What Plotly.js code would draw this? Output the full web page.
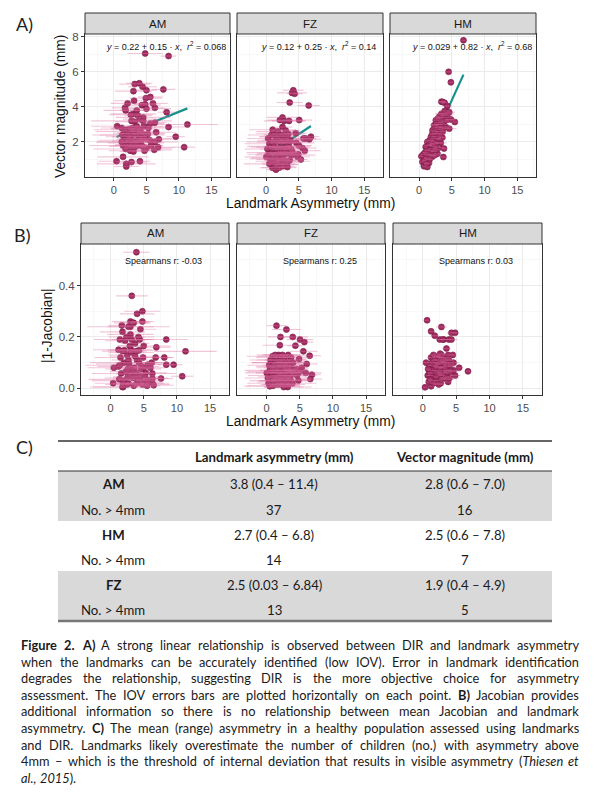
<!DOCTYPE html>
<html><head><meta charset="utf-8">
<script src="https://cdn.plot.ly/plotly-3.0.1.min.js"></script>
<style>html,body{margin:0;padding:0;background:#fff}#chart{width:597px;height:798px}</style>
</head><body><div id="chart"></div>
<script>
// ---------------- DATA ----------------
const facetNames = ['AM', 'FZ', 'HM'];

// AM: landmark asymmetry (x), IOV error, vector magnitude (panel A), |1-Jacobian| (panel B)
const amLandmark = [4.8,8.4,3.2,3.9,3.0,4.4,5.0,7.6,3.1,4.9, 5.6,2.1,1.7,1.8,4.3,4.8,5.0,6.3,6.0,8.1, 3.0,3.7,4.5,4.0,2.7,3.2,4.5,6.3,0.5,11.3, 8.4,9.5,10.8,6.9,6.8,6.3,1.4,0.4,1.9,1.9, 2.7,4.0,1.2,1.6,2.0,2.5,3.0,3.5,4.0,4.6, 1.3,1.8,2.3,2.8,3.3,3.8,4.3,5.2,1.5,2.0, 2.6,3.1,3.6,4.1,4.8,5.5,1.4,2.2,2.7,3.2, 3.7,4.4,5.0,5.7,6.2,2.5,3.0,1.8,4.7,1.2, 3.9,2.4,5.3,3.4,4.2,2.9,6.5,5.6,3.5,2.6];
const amIOV = [2.7,1.2,2.4,2.0,2.8,2.2,1.6,1.8,3.1,2.5, 1.9,2.6,2.0,3.4,2.9,1.7,3.8,1.5,2.3,1.4, 3.5,2.1,4.2,2.6,6.2,3.0,2.4,1.8,4.0,4.7, 3.3,1.4,1.7,2.2,2.5,3.6,3.9,2.8,4.5,1.9, 2.3,1.6,3.2,4.4,5.1,2.9,3.5,2.2,1.7,3.0, 4.6,3.1,2.4,5.0,2.8,1.9,3.6,2.5,3.9,4.8, 2.2,3.4,1.8,2.9,4.1,2.0,5.2,3.0,2.5,1.6, 3.7,2.3,4.0,1.9,2.7,3.3,2.1,4.9,2.6,3.8, 1.5,2.7,3.2,4.3,2.4,1.8,3.0,2.1,2.6,3.4];
const amVector = [7.05,6.9,5.3,5.35,4.9,5.15,4.95,5.0,4.35,4.5, 4.57,4.2,3.95,3.8,4.1,4.15,3.9,3.95,4.2,3.7, 3.6,3.5,3.4,3.3,3.2,3.15,3.2,3.1,2.9,3.0, 2.85,2.3,1.7,2.15,1.7,2.0,1.15,0.9,0.75,0.6, 0.85,0.9,2.8,2.6,2.7,2.75,2.8,2.9,2.7,2.9, 2.4,2.3,2.5,2.4,2.5,2.3,2.5,2.45,2.1,2.0, 2.15,2.05,2.1,2.0,2.2,2.1,1.8,1.75,1.85,1.7, 1.8,1.75,1.65,1.8,1.55,1.5,1.45,1.6,1.5,2.0, 2.6,2.3,2.8,1.95,2.2,2.65,2.55,3.05,3.8,3.55];
const amJacobian = [0.30,0.092,0.36,0.53,0.26,0.19,0.08,0.038,0.15,0.12, 0.092,0.148,0.245,0.22,0.148,0.26,0.02,0.038,0.08,0.12, 0.24,0.175,0.04,0.29,0.24,0.19,0.23,0.02,0.08,0.144, 0.19,0.092,0.047,0.16,0.12,0.058,0.19,0.02,0.005,0.02, 0.02,0.02,0.085,0.058,0.10,0.13,0.21,0.255,0.11,0.075, 0.035,0.145,0.065,0.095,0.255,0.06,0.10,0.045,0.12,0.03, 0.045,0.14,0.08,0.035,0.015,0.01,0.09,0.185,0.11,0.07, 0.125,0.05,0.165,0.03,0.10,0.015,0.055,0.005,0.085,0.15, 0.145,0.2,0.06,0.04,0.2,0.165,0.012,0.025,0.01,0.075];

const fzLandmark = [4.15,3.95,4.35,3.6,6.5,2.5,2.1,2.75,3.5,5.05, 2.5,3.0,6.84,6.6,6.05,5.7,5.55,5.9,4.9,4.8, 5.3,3.15,3.25,2.75,0.95,1.5,2.0,0.3,0.8,1.3, 1.8,2.3,2.8,3.4,0.5,1.0,1.5,2.0,2.5,3.0, 3.6,3.7,0.2,0.7,1.2,1.7,2.2,2.7,3.2,3.8, 3.5,0.4,0.9,1.4,1.9,2.4,2.9,3.4,3.9,0.6, 1.1,1.6,2.1,2.6,3.6,3.3,1.3,2.2,1.8,0.03, 2.9,3.3,4.6,1.0,4.5,2.6,4.0,5.0,0.5,1.6];
const fzIOV = [1.6,2.3,1.2,2.0,1.7,2.4,1.9,3.1,2.6,2.0, 1.5,2.2,1.3,1.8,1.6,1.4,2.1,2.4,1.2,1.9, 1.0,1.7,1.4,2.2,1.9,1.5,2.6,3.2,3.6,2.9, 3.3,2.7,3.9,2.5,3.8,4.0,2.8,3.4,3.1,2.4, 2.9,3.3,3.5,3.0,4.1,2.6,3.7,2.2,3.6,2.5, 3.0,3.3,3.9,2.8,3.5,2.7,3.2,2.9,3.6,3.1, 2.6,3.8,2.4,3.0,2.2,3.4,2.0,2.7,3.4,3.3, 2.1,2.5,2.8,3.5,1.8,1.6,2.4,2.0,3.9,2.6];
const fzVector = [4.95,4.8,4.75,4.25,4.08,3.4,3.25,3.2,3.2,3.25, 2.85,2.65,2.3,2.15,2.2,2.2,1.65,1.5,1.3,1.15, 1.0,0.72,0.57,0.82,0.53,0.42,0.53,2.2,2.4,2.5, 2.6,2.4,2.3,2.45,1.9,2.0,2.1,2.0,2.1,1.95, 2.0,2.1,1.6,1.7,1.75,1.6,1.7,1.65,1.75,1.6, 1.7,1.3,1.4,1.35,1.25,1.4,1.3,1.35,1.25,1.05, 1.0,1.1,0.95,1.05,0.95,0.9,0.8,0.7,0.9,1.15, 1.55,2.15,1.95,2.7,2.5,0.62,1.45,1.8,0.75,2.3];
const fzJacobian = [0.07,0.2,0.166,0.09,0.127,0.06,0.2,0.11,0.05,0.19, 0.04,0.229,0.053,0.036,0.095,0.18,0.144,0.06,0.114,0.03, 0.08,0.02,0.13,0.01,0.03,0.244,0.168,0.02,0.05,0.12, 0.13,0.08,0.03,0.1,0.07,0.01,0.045,0.125,0.09,0.06, 0.035,0.12,0.04,0.1,0.065,0.015,0.11,0.075,0.005,0.055, 0.085,0.09,0.125,0.025,0.06,0.13,0.045,0.07,0.02,0.11, 0.08,0.1,0.035,0.005,0.105,0.04,0.13,0.015,0.085,0.06, 0.095,0.015,0.05,0.03,0.075,0.12,0.1,0.065,0.008,0.07];

const hmLandmark = [6.77,4.5,4.85,3.4,3.9,3.6,4.3,3.9,3.15,3.7, 4.3,2.55,4.85,5.45,2.3,4.05,2.05,3.05,4.6,1.8, 2.8,3.55,1.25,2.3,3.3,1.0,2.05,3.05,3.8,0.65, 1.8,2.8,3.7,0.35,1.25,0.5,1.5,0.75,1.25,2.6, 3.0,3.5,2.8,3.3,3.8,2.4,2.7,3.2,3.6,2.0, 2.5,3.0,1.6,2.0,2.6,1.4,1.8,2.4,1.2,1.6, 2.2,2.6,0.9,1.4,2.0,1.0,1.6,0.8,2.4,4.0, 4.6,3.4,2.9,4.2,1.1];
const hmIOV = [0.3,0.5,0.4,0.6,0.4,0.5,0.7,0.8,0.6,1.2, 0.9,0.5,0.8,0.6,0.7,1.0,0.4,0.6,1.1,0.5, 0.8,0.6,0.4,0.7,0.9,0.3,0.6,0.8,0.5,0.4, 0.7,0.5,0.6,0.3,0.5,0.4,0.6,0.3,0.5,0.9, 0.7,1.0,0.6,1.3,0.8,0.5,0.7,0.9,1.1,0.6, 0.8,0.5,0.7,0.4,0.9,0.6,0.5,0.8,0.4,0.7, 0.5,0.6,0.4,0.7,0.5,0.3,0.6,0.4,0.8,1.4, 0.9,1.0,0.7,1.2,0.4];
const hmVector = [7.8,6.0,5.4,4.3,4.23,4.28,4.05,3.77,3.47,3.4, 3.5,3.24,3.28,3.14,2.95,2.86,2.67,2.7,2.76,2.29, 2.32,2.25,2.0,1.9,1.94,1.71,1.62,1.68,1.62,1.3, 1.24,1.33,1.14,1.18,1.05,0.86,0.8,0.61,0.57,3.0, 3.1,3.0,2.85,2.8,3.15,2.6,2.5,2.45,2.6,2.45, 2.2,2.15,2.1,2.05,1.95,1.8,1.85,1.75,1.55,1.5, 1.45,1.55,1.4,1.3,1.15,1.1,1.0,0.95,1.25,3.6, 3.7,3.6,3.35,3.25,0.75];
const hmJacobian = [0.066,0.13,0.216,0.1,0.19,0.06,0.216,0.11,0.19,0.085, 0.19,0.19,0.05,0.08,0.12,0.09,0.07,0.04,0.07,0.205, 0.239,0.155,0.222,0.03,0.12,0.09,0.11,0.06,0.025,0.265, 0.06,0.13,0.045,0.004,0.008,0.1,0.03,0.05,0.12,0.1, 0.08,0.11,0.05,0.095,0.13,0.065,0.02,0.115,0.035,0.125, 0.08,0.19,0.09,0.045,0.135,0.07,0.11,0.015,0.05,0.13, 0.095,0.055,0.025,0.1,0.085,0.06,0.02,0.075,0.125,0.04, 0.1,0.07,0.105,0.065,0.035];

// linear fits (drawn line) and labels
const fitIntercept = [2.22, 1.2, 0.29];
const fitSlope = [0.15, 0.25, 0.82];
const fitInterceptLabel = ['0.22', '0.12', '0.029'];
const fitSlopeLabel = ['0.15', '0.25', '0.82'];
const fitR2Label = ['0.068', '0.14', '0.68'];
const spearmanLabel = ['-0.03', '0.25', '0.03'];

// axis ticks
const xTicks = [0, 5, 10, 15];
const yTicksA = [2, 4, 6, 8];
const yTicksB = [0, 0.2, 0.4];

// table (panel C)
const tableHeader = ['', 'Landmark asymmetry (mm)', 'Vector magnitude (mm)'];
const tableRowLabels = ['AM', 'No. > 4mm', 'HM', 'No. > 4mm', 'FZ', 'No. > 4mm'];
const tableRowBold = [true, false, true, false, true, false];
const tableRowShaded = [true, true, false, false, true, true];
const tableLandmark = ['3.8 (0.4 – 11.4)', '37', '2.7 (0.4 – 6.8)', '14', '2.5 (0.03 – 6.84)', '13'];
const tableVector = ['2.8 (0.6 – 7.0)', '16', '2.5 (0.6 – 7.8)', '7', '1.9 (0.4 – 4.9)', '5'];

// caption runs: [text, style]
const captionLines = [
  [['Figure 2. A)', 'b'], [' A strong linear relationship is observed between DIR and landmark asymmetry', '']],
  [['when the landmarks can be accurately identified (low IOV). Error in landmark identification', '']],
  [['degrades the relationship, suggesting DIR is the more objective choice for asymmetry', '']],
  [['assessment. The IOV errors bars are plotted horizontally on each point. ', ''], ['B)', 'b'], [' Jacobian provides', '']],
  [['additional information so there is no relationship between mean Jacobian and landmark', '']],
  [['asymmetry. ', ''], ['C)', 'b'], [' The mean (range) asymmetry in a healthy population assessed using landmarks', '']],
  [['and DIR. Landmarks likely overestimate the number of children (no.) with asymmetry above', '']],
  [['4mm – which is the threshold of internal deviation that results in visible asymmetry (', ''], ['Thiesen et', 'i']],
  [['al., 2015', 'i'], [').', '']]
];

// ---------------- LAYOUT HELPERS ----------------
const W = 597, H = 798;
const X = p => p / W;
const Y = p => 1 - p / H;
const SANS = 'Liberation Sans, Arial, sans-serif';
const CAL = 'Lato, sans-serif';

const facetData = [
  {x: amLandmark, e: amIOV, a: amVector, b: amJacobian},
  {x: fzLandmark, e: fzIOV, a: fzVector, b: fzJacobian},
  {x: hmLandmark, e: hmIOV, a: hmVector, b: hmJacobian}
];

const geom = [
  {top: 34, bottom: 177, stripTop: 13, cols: [[85, 230], [237, 383], [390, 536]],
   yrange: [0.0, 8.16], yticks: yTicksA, ydt: 1, ykey: 'a'},
  {top: 244, bottom: 395, stripTop: 223, cols: [[81, 229], [237, 385], [393, 542]],
   yrange: [-0.026, 0.562], yticks: yTicksB, ydt: 0.1, ykey: 'b'}
];
const xRange = [-4.45, 17.85];

const layout = {
  width: W, height: H, margin: {l: 0, r: 0, t: 0, b: 0},
  paper_bgcolor: '#fff', plot_bgcolor: '#fff', showlegend: false,
  annotations: [], shapes: []
};
const traces = [];

const markerColor = '#a12b5f';
const errColor = 'rgba(222, 110, 160, 0.40)';

geom.forEach((g, p) => {
  g.cols.forEach((c, f) => {
    const idx = p * 3 + f + 1;
    const sfx = idx === 1 ? '' : String(idx);
    layout['xaxis' + sfx] = {
      domain: [X(c[0]), X(c[1])], anchor: 'y' + sfx, range: xRange,
      tickvals: xTicks, ticks: 'outside', ticklen: 3, tickcolor: '#333', tickwidth: 1,
      tickfont: {family: SANS, size: 11, color: '#4d4d4d'},
      showgrid: true, gridcolor: '#ebebeb', gridwidth: 1,
      minor: {dtick: 2.5, tick0: 0, showgrid: true, gridcolor: '#f4f4f4', gridwidth: 0.6, ticks: ''},
      showline: true, mirror: true, linecolor: '#333', linewidth: 1, zeroline: false, fixedrange: true
    };
    layout['yaxis' + sfx] = {
      domain: [Y(g.bottom), Y(g.top)], anchor: 'x' + sfx, range: g.yrange,
      tickvals: g.yticks, tickformat: p === 1 ? '.1f' : '',
      ticks: f === 0 ? 'outside' : '', ticklen: 3, tickcolor: '#333', tickwidth: 1,
      showticklabels: f === 0,
      tickfont: {family: SANS, size: 11.5, color: '#4d4d4d'},
      showgrid: true, gridcolor: '#ebebeb', gridwidth: 1,
      minor: {dtick: g.ydt, tick0: 0, showgrid: true, gridcolor: '#f4f4f4', gridwidth: 0.6, ticks: ''},
      showline: true, mirror: true, linecolor: '#333', linewidth: 1, zeroline: false, fixedrange: true
    };
    // strip
    layout.shapes.push({type: 'rect', xref: 'paper', yref: 'paper', x0: X(c[0]), x1: X(c[1]),
      y0: Y(g.top), y1: Y(g.stripTop), fillcolor: '#d9d9d9', line: {color: '#333', width: 1}});
    layout.annotations.push({xref: 'paper', yref: 'paper', x: X((c[0] + c[1]) / 2), y: Y((g.top + g.stripTop) / 2),
      text: facetNames[f], showarrow: false, xanchor: 'center', yanchor: 'middle',
      font: {family: SANS, size: 11.5, color: '#1a1a1a'}});

    const d = facetData[f];
    if (p === 0) {
      const xmin = Math.min(...d.x), xmax = Math.max(...d.x);
      traces.push({type: 'scatter', mode: 'lines', xaxis: 'x' + sfx, yaxis: 'y' + sfx,
        x: [xmin, xmax], y: [fitIntercept[f] + fitSlope[f] * xmin, fitIntercept[f] + fitSlope[f] * xmax],
        line: {color: '#16918c', width: 2.2}, hoverinfo: 'skip'});
      layout.annotations.push({xref: 'x' + sfx, yref: 'y' + sfx, x: 8, y: 7.5,
        text: '<i>y</i> = ' + fitInterceptLabel[f] + ' + ' + fitSlopeLabel[f] + ' · <i>x</i>,&nbsp; <i>r</i><sup>2</sup> = ' + fitR2Label[f],
        showarrow: false, xanchor: 'center', yanchor: 'middle', font: {family: SANS, size: 9, color: '#111'}});
    } else {
      layout.annotations.push({xref: 'x' + sfx, yref: 'y' + sfx, x: 8, y: 0.495,
        text: 'Spearmans r: ' + spearmanLabel[f],
        showarrow: false, xanchor: 'center', yanchor: 'middle', font: {family: SANS, size: 9, color: '#111'}});
    }
    traces.push({type: 'scatter', mode: 'markers', xaxis: 'x' + sfx, yaxis: 'y' + sfx,
      x: d.x, y: d[g.ykey],
      marker: {color: markerColor, size: 6, line: {color: '#761d45', width: 0.6}}, hoverinfo: 'x+y'});
    traces.push({type: 'scatter', mode: 'markers', xaxis: 'x' + sfx, yaxis: 'y' + sfx,
      x: d.x, y: d[g.ykey], marker: {size: 1, opacity: 0},
      error_x: {type: 'data', array: d.e, symmetric: true, color: errColor, thickness: 1.1, width: 0},
      hoverinfo: 'skip'});
  });
});

// axis titles
const tA = {xref: 'paper', yref: 'paper', showarrow: false, font: {family: SANS, size: 13.8, color: '#111'}};
layout.annotations.push(Object.assign({}, tA, {x: X(310), y: Y(203), text: 'Landmark Asymmetry (mm)', xanchor: 'center', yanchor: 'middle'}));
layout.annotations.push(Object.assign({}, tA, {x: X(310), y: Y(421), text: 'Landmark Asymmetry (mm)', xanchor: 'center', yanchor: 'middle'}));
layout.annotations.push(Object.assign({}, tA, {x: X(61), y: Y(106), text: 'Vector magnitude (mm)', textangle: -90, xanchor: 'center', yanchor: 'middle'}));
layout.annotations.push(Object.assign({}, tA, {x: X(47), y: Y(326), text: '|1-Jacobian|', textangle: -90, xanchor: 'center', yanchor: 'middle'}));

// panel labels
[['A)', 24, 24], ['B)', 22, 235], ['C)', 24, 447]].forEach(l => {
  layout.annotations.push({xref: 'paper', yref: 'paper', x: X(l[1]), y: Y(l[2]), text: l[0], showarrow: false,
    xanchor: 'center', yanchor: 'middle', font: {family: CAL, size: 18, color: '#222'}});
});

// table (panel C) drawn with shapes + text
(function () {
  const tLeft = 58, tRight = 552, tTop = 441, headH = 30, rowH = 25;
  const colCenters = [113, 274, 465];
  const tf = {family: CAL, size: 13.2, color: '#1a1a1a'};
  const txt = (x, y, t) => layout.annotations.push({xref: 'paper', yref: 'paper', x: X(x), y: Y(y), text: t,
    showarrow: false, xanchor: 'center', yanchor: 'middle', font: tf});
  tableHeader.forEach((h, i) => { if (h) txt(colCenters[i], tTop + headH / 2 + 1, '<b>' + h + '</b>'); });
  tableRowLabels.forEach((r, i) => {
    const y0 = tTop + headH + i * rowH;
    if (tableRowShaded[i]) {
      layout.shapes.push({type: 'rect', xref: 'paper', yref: 'paper', layer: 'below', x0: X(tLeft), x1: X(tRight),
        y0: Y(y0 + rowH), y1: Y(y0), fillcolor: '#d9d9d9', line: {width: 0}});
    }
    const yc = y0 + rowH / 2 + 1;
    txt(colCenters[0], yc, tableRowBold[i] ? '<b>' + r + '</b>' : r);
    txt(colCenters[1], yc, tableLandmark[i]);
    txt(colCenters[2], yc, tableVector[i]);
  });
  const tBottom = tTop + headH + tableRowLabels.length * rowH;
  layout.shapes.push({type: 'line', xref: 'paper', yref: 'paper', x0: X(tLeft), x1: X(tRight), y0: Y(tTop), y1: Y(tTop), line: {color: '#333', width: 1.3}});
  layout.shapes.push({type: 'line', xref: 'paper', yref: 'paper', x0: X(tLeft), x1: X(tRight), y0: Y(tTop + headH), y1: Y(tTop + headH), line: {color: '#333', width: 1}});
  layout.shapes.push({type: 'line', xref: 'paper', yref: 'paper', x0: X(tLeft), x1: X(tRight), y0: Y(tBottom), y1: Y(tBottom), line: {color: '#777', width: 2.5}});
})();

// caption: justified words measured on a canvas
(function () {
  const ctx = document.createElement('canvas').getContext('2d');
  const fontStr = (s, fs) => (s === 'i' ? 'italic ' : '') + (s === 'b' ? 'bold ' : '') + fs + 'px Lato';
  const lines = captionLines.map(runs => {
    const words = [];
    let cur = null, newWord = true;
    runs.forEach(([t0, st]) => {
      t0.split(/(\s+)/).forEach(part => {
        if (part === '') return;
        if (/^\s+$/.test(part)) { newWord = true; return; }
        if (newWord || !cur) { cur = []; words.push(cur); newWord = false; }
        cur.push([part, st]);
      });
    });
    return words;
  });
  const measure = (word, fs) => word.reduce((s, [t, st]) => { ctx.font = fontStr(st, fs); return s + ctx.measureText(t).width; }, 0);
  const left = 20, right = 578, width = right - left;
  ctx.font = fontStr('', 100);
  const sp100 = ctx.measureText(' ').width;
  let maxW = 0;
  lines.slice(0, -1).forEach(ws => {
    const w = ws.reduce((s, w2) => s + measure(w2, 100), 0) + sp100 * 1.6 * (ws.length - 1);
    maxW = Math.max(maxW, w);
  });
  const fs = Math.min(13, Math.floor(width / maxW * 100 * 10) / 10);
  ctx.font = fontStr('', fs);
  const sp = ctx.measureText(' ').width;
  lines.forEach((ws, li) => {
    const widths = ws.map(w2 => measure(w2, fs));
    const total = widths.reduce((a, b) => a + b, 0);
    const last = li === lines.length - 1;
    const gap = last ? sp : (width - total) / (ws.length - 1);
    let xpos = left;
    const yc = 645 + li * 16.6;
    ws.forEach((w2, wi) => {
      const t = w2.map(([s, st]) => st === 'b' ? '<b>' + s + '</b>' : st === 'i' ? '<i>' + s + '</i>' : s).join('');
      layout.annotations.push({xref: 'paper', yref: 'paper', x: X(xpos), y: Y(yc), text: t, showarrow: false,
        xanchor: 'left', yanchor: 'middle', borderpad: 0, font: {family: CAL, size: fs, color: '#1a1a1a'}});
      xpos += widths[wi] + gap;
    });
  });
})();

Plotly.newPlot('chart', traces, layout, {staticPlot: true, displayModeBar: false});
</script>
</body></html>
